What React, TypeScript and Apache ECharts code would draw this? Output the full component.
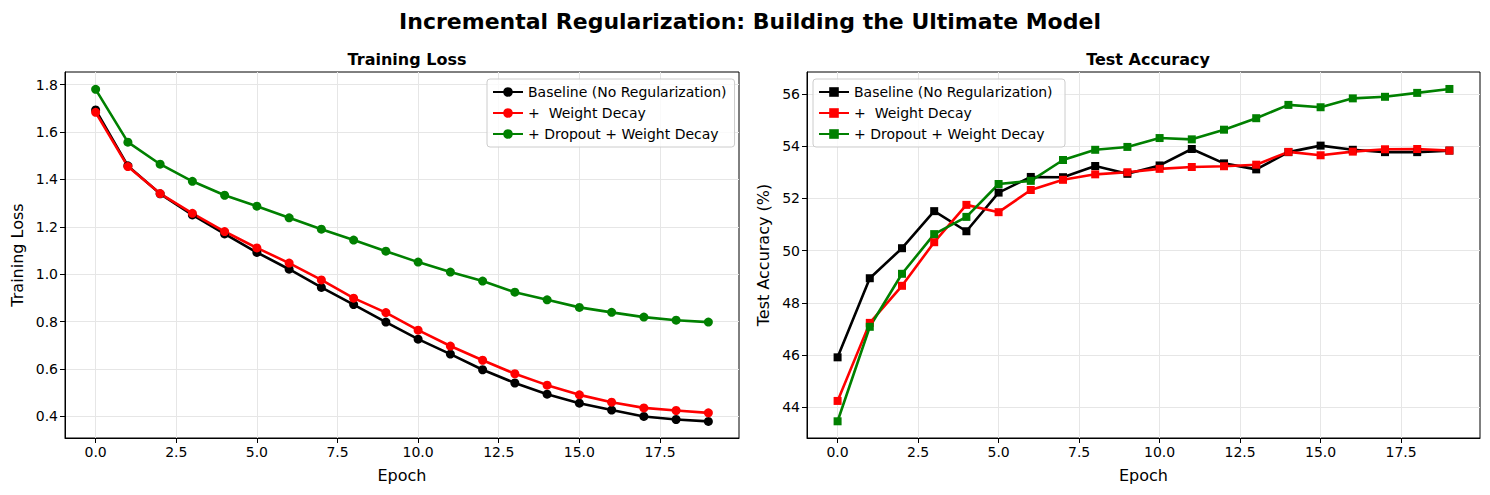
import React, { useEffect, useRef } from "react";
import * as echarts from "echarts";

const epochs = Array.from({ length: 20 }, (_, i) => i);

const lossBaseline = [1.693, 1.457, 1.339, 1.25, 1.17, 1.092, 1.021, 0.944, 0.872, 0.798, 0.726, 0.663, 0.597, 0.541, 0.494, 0.456, 0.427, 0.4, 0.387, 0.379];
const lossWD = [1.683, 1.454, 1.34, 1.257, 1.18, 1.111, 1.047, 0.976, 0.899, 0.838, 0.764, 0.697, 0.637, 0.58, 0.532, 0.491, 0.46, 0.436, 0.425, 0.415];
const lossDropWD = [1.78, 1.557, 1.464, 1.392, 1.333, 1.287, 1.238, 1.19, 1.144, 1.097, 1.051, 1.009, 0.971, 0.924, 0.892, 0.86, 0.839, 0.819, 0.806, 0.798];

const accBaseline = [45.91, 48.94, 50.09, 51.51, 50.74, 52.22, 52.82, 52.81, 53.24, 52.94, 53.26, 53.89, 53.34, 53.11, 53.77, 54.02, 53.86, 53.77, 53.77, 53.83];
const accWD = [44.24, 47.23, 48.65, 50.32, 51.75, 51.47, 52.32, 52.71, 52.92, 53.0, 53.13, 53.2, 53.23, 53.29, 53.78, 53.65, 53.79, 53.88, 53.89, 53.83];
const accDropWD = [43.46, 47.08, 49.11, 50.63, 51.29, 52.55, 52.67, 53.47, 53.86, 53.97, 54.31, 54.26, 54.63, 55.07, 55.58, 55.49, 55.83, 55.89, 56.04, 56.19];

const seriesNames = ["Baseline (No Regularization)", "+  Weight Decay", "+ Dropout + Weight Decay"];
const seriesColors = ["#000000", "#ff0000", "#008000"];

const xTicks = [0, 2.5, 5, 7.5, 10, 12.5, 15, 17.5];
const lossTicks = [0.4, 0.6, 0.8, 1.0, 1.2, 1.4, 1.6, 1.8];
const accTicks = [44, 46, 48, 50, 52, 54, 56];

const FONT = "DejaVu Sans";

export default function App() {
  const ref = useRef<HTMLDivElement>(null);
  useEffect(() => {
    if (!ref.current) return;
    const chart = echarts.init(ref.current, null, { renderer: "svg" });
    const gridLine = { show: true, lineStyle: { color: "#e6e6e6", width: 1 } };
    const mkX = (gridIndex: number) => ({
      type: "value",
      gridIndex,
      min: -0.95,
      max: 19.95,
      name: "Epoch",
      nameLocation: "middle",
      nameGap: 29,
      nameTextStyle: { fontFamily: FONT, fontSize: 16, color: "#000" },
      axisLine: { show: true, onZero: false, lineStyle: { color: "#000", width: 1 } },
      axisTick: { show: true, length: 5, customValues: xTicks, lineStyle: { color: "#000" } },
      axisLabel: {
        customValues: xTicks,
        margin: 7,
        fontFamily: FONT,
        fontSize: 14,
        color: "#000",
        formatter: (v: number) => v.toFixed(1),
      },
      splitLine: gridLine,
    });
    const mkY = (gridIndex: number, min: number, max: number, ticks: number[], name: string, gap: number, dec: number) => ({
      type: "value",
      gridIndex,
      min,
      max,
      name,
      nameLocation: "middle",
      nameGap: gap,
      nameTextStyle: { fontFamily: FONT, fontSize: 16, color: "#000" },
      axisLine: { show: true, onZero: false, lineStyle: { color: "#000", width: 1 } },
      axisTick: { show: true, length: 5, customValues: ticks, lineStyle: { color: "#000" } },
      axisLabel: {
        customValues: ticks,
        margin: 7,
        fontFamily: FONT,
        fontSize: 14,
        color: "#000",
        formatter: (v: number) => v.toFixed(dec),
      },
      splitLine: gridLine,
    });
    const lossData = [lossBaseline, lossWD, lossDropWD];
    const accData = [accBaseline, accWD, accDropWD];
    const series: any[] = [];
    lossData.forEach((arr, i) => {
      series.push({
        type: "line",
        name: seriesNames[i],
        xAxisIndex: 0,
        yAxisIndex: 0,
        data: epochs.map((e, j) => [e, arr[j]]),
        symbol: "circle",
        symbolSize: 9,
        color: seriesColors[i],
        lineStyle: { width: 2.6, color: seriesColors[i] },
        itemStyle: { color: seriesColors[i] },
      });
    });
    accData.forEach((arr, i) => {
      series.push({
        type: "line",
        name: seriesNames[i] + " ",
        xAxisIndex: 1,
        yAxisIndex: 1,
        data: epochs.map((e, j) => [e, arr[j]]),
        symbol: "rect",
        symbolSize: 8,
        color: seriesColors[i],
        lineStyle: { width: 2.6, color: seriesColors[i] },
        itemStyle: { color: seriesColors[i] },
      });
    });
    const legendCommon = {
      orient: "vertical",
      itemWidth: 30,
      itemHeight: 12,
      itemGap: 7,
      padding: [6, 8, 6, 5],
      backgroundColor: "rgba(255,255,255,0.8)",
      borderColor: "#cccccc",
      borderWidth: 1,
      borderRadius: 3,
      textStyle: { fontFamily: FONT, fontSize: 14, color: "#000" },
    };
    chart.setOption({
      animation: false,
      backgroundColor: "#fff",
      title: [
        {
          text: "Incremental Regularization: Building the Ultimate Model",
          left: 745,
          top: 5,
          textAlign: "center",
          textStyle: { fontFamily: FONT, fontSize: 22, fontWeight: "bold", color: "#000" },
        },
        {
          text: "Training Loss",
          left: 402,
          top: 46,
          textAlign: "center",
          textStyle: { fontFamily: FONT, fontSize: 16, fontWeight: "bold", color: "#000" },
        },
        {
          text: "Test Accuracy",
          left: 1143,
          top: 46,
          textAlign: "center",
          textStyle: { fontFamily: FONT, fontSize: 16, fontWeight: "bold", color: "#000" },
        },
      ],
      grid: [
        { left: 65, top: 72, width: 674, height: 366, show: true, borderColor: "#000", borderWidth: 1, backgroundColor: "transparent" },
        { left: 807, top: 72, width: 673, height: 366, show: true, borderColor: "#000", borderWidth: 1, backgroundColor: "transparent" },
      ],
      legend: [
        { ...legendCommon, data: seriesNames, left: 487, top: 79 },
        { ...legendCommon, data: seriesNames.map((n) => n + " "), left: 813, top: 79 },
      ],
      xAxis: [mkX(0), mkX(1)],
      yAxis: [
        mkY(0, 0.309, 1.853, lossTicks, "Training Loss", 40, 1),
        mkY(1, 42.82, 56.84, accTicks, "Test Accuracy (%)", 36, 0),
      ],
      series,
    });
    return () => chart.dispose();
  }, []);
  return (
    <div
      ref={ref}
      style={{ position: "fixed", left: 0, top: 0, width: 1490, height: 495 }}
    />
  );
}
